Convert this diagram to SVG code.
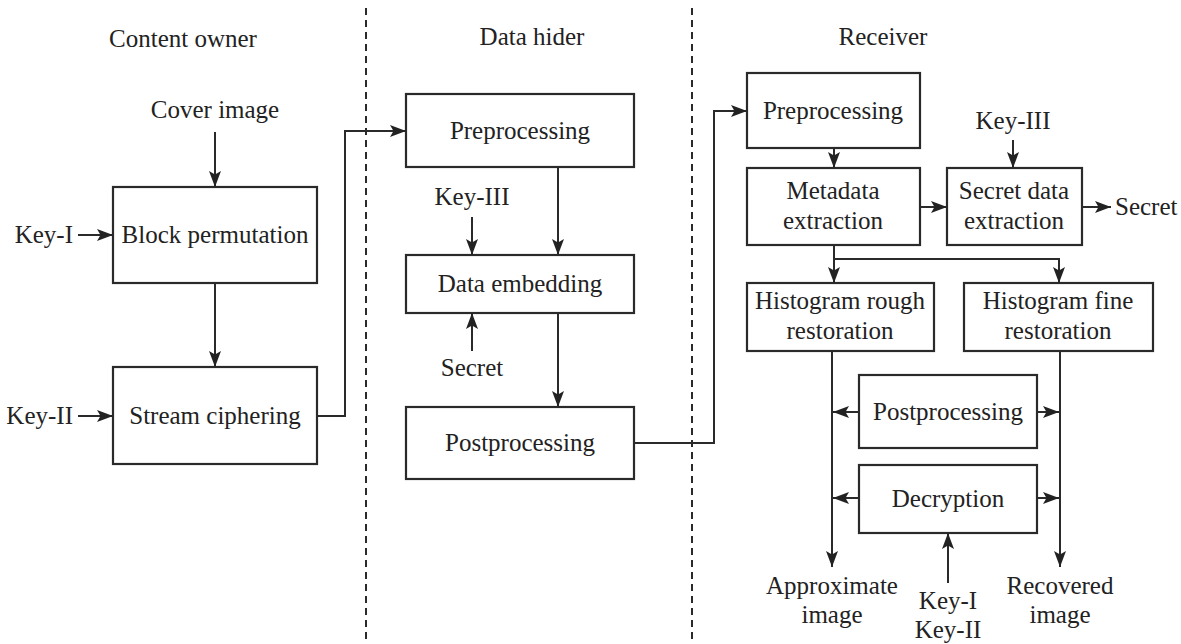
<svg xmlns="http://www.w3.org/2000/svg" width="1181" height="644" viewBox="0 0 1181 644">
  <style>
    text { font-family: "Liberation Serif", "DejaVu Serif", serif; font-size: 25px; fill: #222; }
    .c { text-anchor: middle; }
    .e { text-anchor: end; }
    .box { fill: #fff; stroke: #2a2a2a; stroke-width: 2.2; }
    .arr { fill: none; stroke: #2a2a2a; stroke-width: 2; marker-end: url(#ah); }
    .sep { fill: none; stroke: #2a2a2a; stroke-width: 2; stroke-dasharray: 7 5; }
  </style>
  <defs>
    <marker id="ah" markerUnits="userSpaceOnUse" markerWidth="17" markerHeight="14" refX="16" refY="6" orient="auto">
      <path d="M0,0 L16,6 L0,12 L3.5,6 z" fill="#222"/>
    </marker>
  </defs>
  <rect width="1181" height="644" fill="#fff"/>

  <!-- lane separators and headings -->
  <g id="lanes">
    <line class="sep" x1="366" y1="8" x2="366" y2="644"/>
    <line class="sep" x1="692" y1="8" x2="692" y2="644"/>
    <text class="c" x="183" y="47">Content owner</text>
    <text class="c" x="532" y="45">Data hider</text>
    <text class="c" x="883" y="45">Receiver</text>
  </g>

  <!-- content owner -->
  <g id="block-permutation">
    <rect class="box" x="113" y="187" width="204" height="96"/>
    <text class="c" x="215" y="243">Block permutation</text>
  </g>
  <g id="stream-ciphering">
    <rect class="box" x="113" y="367" width="204" height="97"/>
    <text class="c" x="215" y="424">Stream ciphering</text>
  </g>

  <!-- data hider -->
  <g id="dh-preprocessing">
    <rect class="box" x="406" y="94" width="228" height="73"/>
    <text class="c" x="520" y="139">Preprocessing</text>
  </g>
  <g id="data-embedding">
    <rect class="box" x="406" y="255" width="228" height="58"/>
    <text class="c" x="520" y="292">Data embedding</text>
  </g>
  <g id="dh-postprocessing">
    <rect class="box" x="406" y="407" width="228" height="72"/>
    <text class="c" x="520" y="451">Postprocessing</text>
  </g>

  <!-- receiver -->
  <g id="rx-preprocessing">
    <rect class="box" x="747" y="73" width="173" height="75"/>
    <text class="c" x="833" y="119">Preprocessing</text>
  </g>
  <g id="metadata-extraction">
    <rect class="box" x="747" y="168" width="173" height="77"/>
    <text class="c" x="833" y="199">Metadata</text>
    <text class="c" x="833" y="229">extraction</text>
  </g>
  <g id="secret-data-extraction">
    <rect class="box" x="947" y="168" width="135" height="77"/>
    <text class="c" x="1014" y="199">Secret data</text>
    <text class="c" x="1014" y="229">extraction</text>
  </g>
  <g id="histogram-rough">
    <rect class="box" x="747" y="283" width="187" height="68"/>
    <text class="c" x="840" y="309">Histogram rough</text>
    <text class="c" x="840" y="339">restoration</text>
  </g>
  <g id="histogram-fine">
    <rect class="box" x="964" y="283" width="189" height="68"/>
    <text class="c" x="1058" y="309">Histogram fine</text>
    <text class="c" x="1058" y="339">restoration</text>
  </g>
  <g id="rx-postprocessing">
    <rect class="box" x="859" y="375" width="178" height="73"/>
    <text class="c" x="948" y="420">Postprocessing</text>
  </g>
  <g id="decryption">
    <rect class="box" x="859" y="465" width="178" height="68"/>
    <text class="c" x="948" y="507">Decryption</text>
  </g>

  <!-- inputs and outputs -->
  <g id="labels">
    <text class="c" x="215" y="118">Cover image</text>
    <text class="e" x="73" y="243">Key-I</text>
    <text class="e" x="73" y="424">Key-II</text>
    <text class="c" x="472" y="205">Key-III</text>
    <text class="c" x="472" y="376">Secret</text>
    <text class="c" x="1013" y="129">Key-III</text>
    <text x="1115" y="215">Secret</text>
    <text class="c" x="832" y="594">Approximate</text>
    <text class="c" x="832" y="623">image</text>
    <text class="c" x="948" y="609">Key-I</text>
    <text class="c" x="948" y="638">Key-II</text>
    <text class="c" x="1060" y="594">Recovered</text>
    <text class="c" x="1060" y="623">image</text>
  </g>

  <!-- connectors -->
  <g id="connectors">
    <line class="arr" x1="215" y1="132" x2="215" y2="187"/>
    <line class="arr" x1="78" y1="235" x2="113" y2="235"/>
    <line class="arr" x1="78" y1="416" x2="113" y2="416"/>
    <line class="arr" x1="215" y1="283" x2="215" y2="367"/>
    <path class="arr" d="M317,416 H345 V131 H406"/>

    <line class="arr" x1="558" y1="167" x2="558" y2="255"/>
    <line class="arr" x1="472" y1="217" x2="472" y2="255"/>
    <line class="arr" x1="472" y1="351" x2="472" y2="313"/>
    <line class="arr" x1="558" y1="313" x2="558" y2="407"/>
    <path class="arr" d="M634,443 H714 V111 H747"/>

    <line class="arr" x1="834" y1="148" x2="834" y2="168"/>
    <line class="arr" x1="920" y1="207" x2="947" y2="207"/>
    <line class="arr" x1="1013" y1="140" x2="1013" y2="168"/>
    <line class="arr" x1="1082" y1="207" x2="1111" y2="207"/>
    <line class="arr" x1="834" y1="245" x2="834" y2="283"/>
    <path class="arr" d="M834,259 H1059 V283"/>

    <line class="arr" x1="832" y1="351" x2="832" y2="567"/>
    <line class="arr" x1="1060" y1="351" x2="1060" y2="567"/>
    <line class="arr" x1="859" y1="412" x2="833" y2="412"/>
    <line class="arr" x1="1037" y1="412" x2="1059" y2="412"/>
    <line class="arr" x1="859" y1="498" x2="833" y2="498"/>
    <line class="arr" x1="1037" y1="498" x2="1059" y2="498"/>
    <line class="arr" x1="948" y1="583" x2="948" y2="533"/>
  </g>
</svg>
